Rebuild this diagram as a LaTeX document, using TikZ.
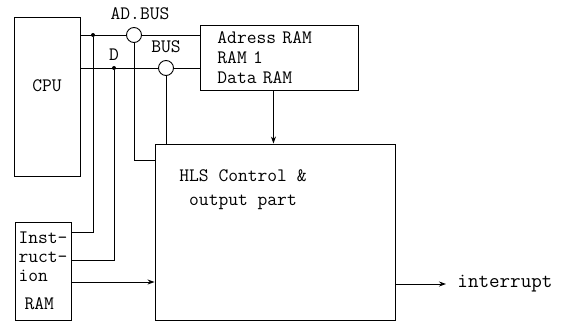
\documentclass[tikz,border=0pt]{standalone}
\usepackage{fontspec}
\usetikzlibrary{arrows.meta,positioning}

\begin{document}
\begin{tikzpicture}[x=1pt,y=-1pt,line width=0.9pt,
  every node/.style={font=\ttfamily\fontsize{19}{19}\selectfont},
  blk/.style={draw,inner sep=0pt},
  junc/.style={circle,draw,fill=white,minimum size=15pt,inner sep=0pt},
  dot/.style={circle,fill,minimum size=4pt,inner sep=0pt},
  arr/.style={-{Stealth[length=7pt,width=5pt]}}]
\useasboundingbox (0,0) rectangle (565,330);
\node[blk,minimum width=66pt,minimum height=159pt,label={[yshift=11pt]center:CPU}] (cpu) at (47,96.5) {};
\node[blk,anchor=west,inner xsep=17pt,text width=124pt,minimum height=65pt,align=left] (adram) at (200,57.5) {Adress RAM\\[1pt]RAM 1\\[1pt]Data RAM};
\node[blk,minimum width=240pt,minimum height=176pt,label={[align=center,anchor=north,xshift=-32pt,yshift=-22pt]north:HLS Control \&\\[5pt]output part}] (hls) at (275,232) {};
\node[blk,minimum width=56pt,minimum height=98pt,align=left,inner xsep=2pt] (iram) at (43,271) {Inst-\\ruct-\\ion\\[9pt]\hspace*{6pt}RAM};
\node[junc,label={[label distance=4pt,xshift=6pt]above:AD.BUS}] (adbus) at (134,35) {};
\node[junc,label={[label distance=4pt]above:BUS}] (dbus) at (166,68) {};
\node[dot] (dota) at (93,35) {};
\node[dot,label={[label distance=1pt]above:D}] (dotd) at (114,68) {};
\node[anchor=west,inner xsep=11pt,font=\ttfamily\fontsize{20.5}{20}\selectfont] (intr) at (446,284) {interrupt};
\draw (cpu.east |- adbus) -- (adbus) -- (adbus -| adram.west);
\draw (cpu.east |- dbus) -- (dbus) -- (dbus -| adram.west);
\draw (dota) |- ([yshift=39pt]iram.east);
\draw (dotd) |- ([yshift=11pt]iram.east);
\draw[arr] ([yshift=-11pt]iram.east) -- ([yshift=-11pt]iram.east -| hls.west);
\draw (adbus) |- ([yshift=-17pt]hls.north west);
\draw (dbus) -- (dbus |- hls.north);
\draw[arr] ([xshift=-6pt]adram.south) -- ([xshift=-6pt]adram.south |- hls.north);
\draw[arr] (hls.east |- intr) -- (intr);
\end{tikzpicture}
\end{document}
